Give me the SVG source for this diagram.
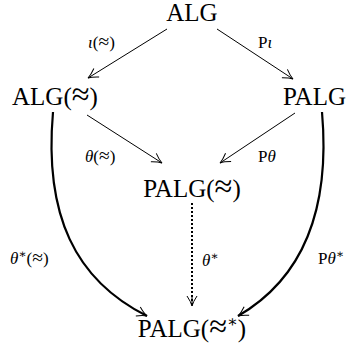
<svg xmlns="http://www.w3.org/2000/svg" width="346" height="354" viewBox="0 0 346 354">
<style>
.n{font-family:"Liberation Serif","DejaVu Serif",serif;font-size:25px;fill:#000}
.l{font-family:"Liberation Serif","DejaVu Serif",serif;font-size:17px;fill:#000}
.i{font-style:italic}
.a{font-size:1.3em}
.b{font-size:1.15em}
.e{fill:none;stroke:#000;stroke-width:1}
.c{fill:none;stroke:#000;stroke-width:2.2}
.d{fill:none;stroke:#000;stroke-width:2;stroke-dasharray:2 2}
</style>
<defs>
<marker id="ah" viewBox="-12 -6 14 12" refX="0" refY="0" markerWidth="14" markerHeight="12" markerUnits="userSpaceOnUse" orient="auto">
<path d="M-10,-5 Q-4,-1 0,0 Q-4,1 -10,5" fill="none" stroke="#000" stroke-width="1"/>
</marker>
</defs>
<g id="connectors">
<path class="e" d="M167,29 L88,78" marker-end="url(#ah)"/>
<path class="e" d="M217,29 L293,79" marker-end="url(#ah)"/>
<path class="e" d="M87,115 L162,163" marker-end="url(#ah)"/>
<path class="e" d="M295,113 L220,163" marker-end="url(#ah)"/>
<path class="d" d="M192,203 L192,306"/>
<path class="e" d="M192,296 L192,306" marker-end="url(#ah)"/>
<path class="c" d="M53,112 C44,215 75,280 147,316" marker-end="url(#ah)"/>
<path class="c" d="M322,112 C331,215 300,280 238,316" marker-end="url(#ah)"/>
</g>
<g id="labels">
<text class="l" x="88" y="48"><tspan class="i">ι</tspan>(<tspan class="b">≈</tspan>)</text>
<text class="l" x="258" y="48">P<tspan class="i">ι</tspan></text>
<text class="l" x="85" y="162"><tspan class="i">θ</tspan>(<tspan class="b">≈</tspan>)</text>
<text class="l" x="258" y="162">P<tspan class="i">θ</tspan></text>
<text class="l" x="202" y="266"><tspan class="i">θ</tspan><tspan dy="-6" font-size="12">∗</tspan></text>
<text class="l" x="10" y="264"><tspan class="i">θ</tspan><tspan dy="-6" font-size="12">∗</tspan><tspan dy="6">(<tspan class="b">≈</tspan>)</tspan></text>
<text class="l" x="318" y="264">P<tspan class="i">θ</tspan><tspan dy="-6" font-size="12">∗</tspan></text>
</g>
<g id="ALG"><text class="n" x="192" y="21" text-anchor="middle">ALG</text></g>
<g id="ALG_eq"><text class="n" x="12" y="105">ALG(<tspan class="a">≈</tspan>)</text></g>
<g id="PALG"><text class="n" x="283" y="105">PALG</text></g>
<g id="PALG_eq"><text class="n" x="192" y="197" text-anchor="middle">PALG(<tspan class="a">≈</tspan>)</text></g>
<g id="PALG_eqstar"><text class="n" x="192" y="337" text-anchor="middle">PALG(<tspan class="a">≈</tspan><tspan dy="-10" font-size="16">∗</tspan><tspan dy="10">)</tspan></text></g>
</svg>
